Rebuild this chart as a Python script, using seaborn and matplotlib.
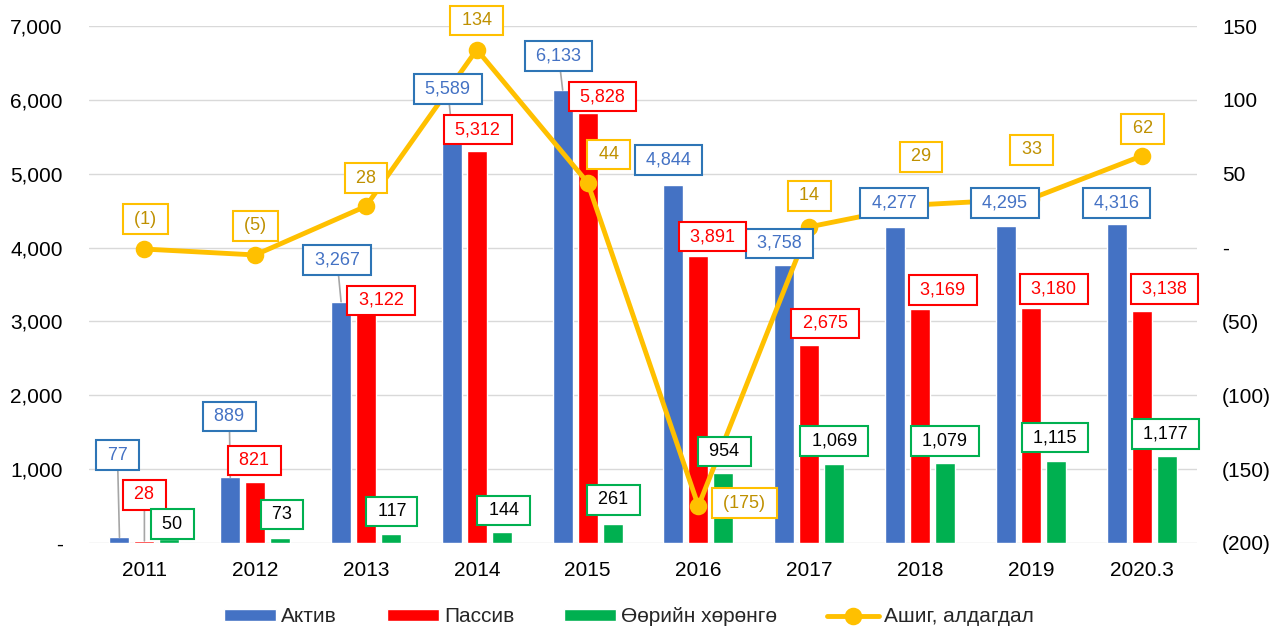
import numpy as np
import pandas as pd
import matplotlib
matplotlib.use("Agg")
import matplotlib.pyplot as plt
import seaborn as sns
from matplotlib.ticker import FuncFormatter, MultipleLocator

# ---------------- data ----------------
years = ["2011", "2012", "2013", "2014", "2015", "2016", "2017", "2018", "2019", "2020.3"]
aktiv = [77, 889, 3267, 5589, 6133, 4844, 3758, 4277, 4295, 4316]
passiv = [28, 821, 3122, 5312, 5828, 3891, 2675, 3169, 3180, 3138]
equity = [50, 73, 117, 144, 261, 954, 1069, 1079, 1115, 1177]
profit = [-1, -5, 28, 134, 44, -175, 14, 29, 33, 62]
series_names = ["Актив", "Пассив", "Өөрийн хөрөнгө"]
line_name = "Ашиг, алдагдал"

# ---------------- styles / label placement (pixel offsets) ----------------
bar_colors = ["#4472C4", "#FF0000", "#00B050"]
label_text_colors = ["#4472C4", "#FF0000", "#000000"]
label_edge_colors = ["#2E75B6", "#FF0000", "#00B050"]
line_color = "#FFC000"
line_text_color = "#BF9000"

bar_label_offsets = [
    [(-2, 82), (-1, 61), (-4, 42), (-4, 41), (-4, 34), (-5, 25), (-5, 22), (-1, 24), (-1, 23), (0, 21)],
    [(0, 46), (-1, 22), (15, 12), (1, 21), (15, 16), (14, 19), (16, 22), (23, 19), (23, 19), (23, 22)],
    [(3, 15), (2, 23), (1, 23), (2, 22), (1, 24), (1, 21), (0, 23), (0, 22), (-1, 23), (-1, 22)],
]
bar_leaders = [
    [True, True, True, True, True, False, False, False, False, False],
    [True, False, False, False, False, False, False, False, False, False],
    [False] * 10,
]
line_label_offsets = [(1, 30), (0, 29), (0, 28), (0, 29), (21, 28), (46, 3), (0, 31), (1, 48), (1, 49), (1, 27)]

# ---------------- figure ----------------
sns.set_theme(style="white")
plt.rcParams["font.family"] = ["Liberation Sans", "DejaVu Sans"]

W, H = 1284, 632
fig = plt.figure(figsize=(W / 100, H / 100), dpi=100)
ax = fig.add_axes([89 / W, (H - 543) / H, (1197 - 89) / W, (543 - 26) / H])

df = pd.DataFrame({
    "year": years * 3,
    "value": aktiv + passiv + equity,
    "series": [n for n in series_names for _ in years],
})

sns.barplot(data=df, x="year", y="value", hue="series", order=years,
            hue_order=series_names, palette=bar_colors, saturation=1,
            width=0.675, gap=0.2, errorbar=None, legend=False, ax=ax, zorder=2)

ax2 = ax.twinx()
sns.pointplot(x=years, y=profit, order=years, color=line_color, markers="o",
              linestyles="-", errorbar=None, markersize=10, linewidth=3.5, ax=ax2)

# axes formatting
ax.set_xlim(-0.5, 9.5)
ax.set_ylim(0, 7000)
ax.yaxis.set_major_locator(MultipleLocator(1000))
ax.yaxis.set_major_formatter(FuncFormatter(lambda v, p: "-" if abs(v) < 1e-9 else f"{v:,.0f}"))
ax2.set_ylim(-200, 150)
ax2.yaxis.set_major_locator(MultipleLocator(50))


def fmt_r(v, p):
    if abs(v) < 1e-9:
        return "-"
    if v < 0:
        return f"({-v:,.0f})"
    return f"{v:,.0f}"


ax2.yaxis.set_major_formatter(FuncFormatter(fmt_r))

ax.set_axisbelow(True)
ax.grid(axis="y", color="#D9D9D9", linewidth=1)
ax.grid(axis="x", visible=False)
for a in (ax, ax2):
    for s in a.spines.values():
        s.set_visible(False)
    a.set_xlabel("")
    a.set_ylabel("")

ax.tick_params(axis="both", length=0, labelsize=15, colors="#000000")
ax.tick_params(axis="y", pad=19)
ax.tick_params(axis="x", pad=13)
ax2.tick_params(axis="y", length=0, labelsize=15, pad=18, colors="#000000")

# ---------------- data labels ----------------
for k in range(3):
    cont = ax.containers[k]
    for i, bar in enumerate(cont):
        x = bar.get_x() + bar.get_width() / 2
        y = bar.get_height()
        dx, dy = bar_label_offsets[k][i]
        arrow = None
        if bar_leaders[k][i]:
            arrow = dict(arrowstyle="-", color="#A6A6A6", lw=1.2, shrinkA=0, shrinkB=0)
        ax2.annotate(f" {y:,.0f} ", xy=(x, y), xycoords=ax.transData,
                     xytext=(dx, dy), textcoords="offset pixels",
                     ha="center", va="center", fontsize=13,
                     color=label_text_colors[k],
                     bbox=dict(boxstyle="square,pad=0.35", fc="white",
                               ec=label_edge_colors[k], lw=1.5),
                     arrowprops=arrow, zorder=6)

line = ax2.lines[0]
pts = line.get_xydata()
for i, (x, y) in enumerate(pts):
    txt = f"({-y:,.0f})" if y < 0 else f"{y:,.0f}"
    dx, dy = line_label_offsets[i]
    ax2.annotate(f" {txt} ", xy=(x, y), xycoords=ax2.transData,
                 xytext=(dx, dy), textcoords="offset pixels",
                 ha="center", va="center", fontsize=13, color=line_text_color,
                 bbox=dict(boxstyle="square,pad=0.35", fc="white",
                           ec=line_color, lw=1.5), zorder=6)

# ---------------- legend ----------------
handles = [ax.containers[k] for k in range(3)] + [line]
labels = series_names + [line_name]
fig.legend(handles, labels, loc="center", bbox_to_anchor=(0.49, 0.024),
           ncol=4, frameon=False, fontsize=15, handlelength=2.5,
           handleheight=0.55, handletextpad=0.24, columnspacing=2.4)

fig.savefig("out.png", dpi=100)
